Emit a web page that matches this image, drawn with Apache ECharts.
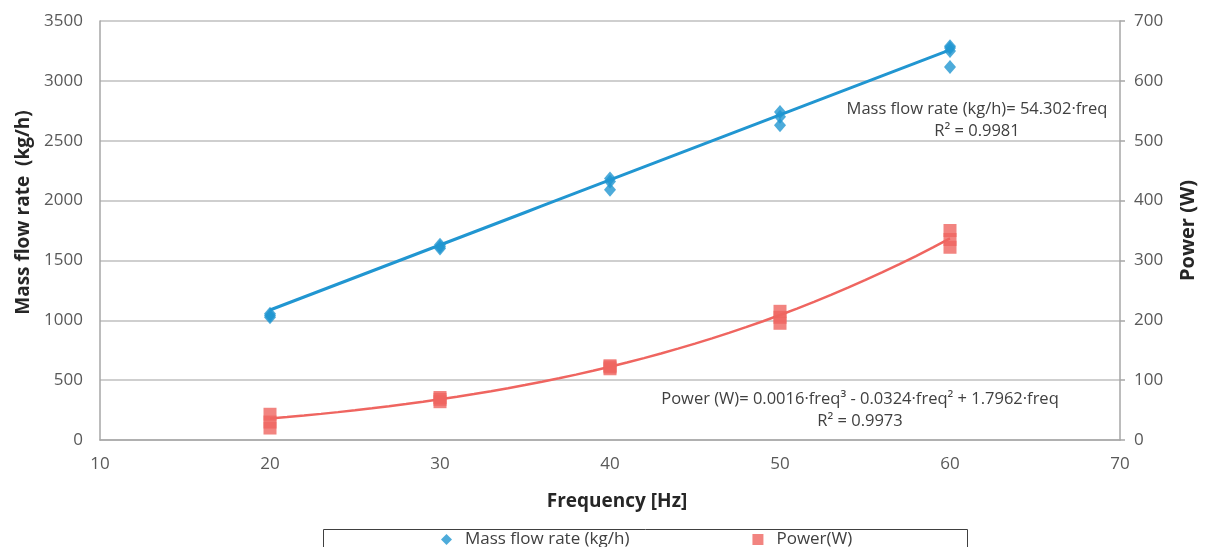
<!DOCTYPE html>
<html>
<head>
<meta charset="utf-8">
<script src="https://cdn.jsdelivr.net/npm/echarts@6/dist/echarts.min.js"></script>
<style>
  html, body { margin: 0; padding: 0; background: #ffffff; }
  #chart { width: 1206px; height: 547px; }
</style>
</head>
<body>
<div id="chart"></div>
<script>
// Measured points: pump frequency (Hz) against mass flow rate and electrical power
const massFreq = [20, 20, 20, 30, 30, 30, 40, 40, 40, 50, 50, 50, 60, 60, 60, 60];
const massFlow = [1025, 1040, 1055, 1600, 1615, 1630, 2090, 2160, 2185, 2630, 2700, 2740, 3115, 3250, 3275, 3290];
const powerFreq = [20, 20, 20, 30, 30, 30, 40, 40, 40, 50, 50, 50, 60, 60, 60];
const powerW = [20, 30, 43, 64, 68, 71, 119, 122, 124, 195, 205, 215, 322, 335, 350];

// Fitted trend coefficients, as printed beside each trend line
const massCoef = [54.302];                       // freq
const powerCoef = [0.0016, -0.0324, 1.7962];     // freq^3, freq^2, freq
const trendFreq = [];
for (let f = 20; f <= 60; f++) trendFreq.push(f);

const xTicks = [10, 20, 30, 40, 50, 60, 70];
const massTicks = [0, 500, 1000, 1500, 2000, 2500, 3000, 3500];
const powerTicks = [0, 100, 200, 300, 400, 500, 600, 700];

const BLUE = '#2196d1';
const RED = '#ef6560';
const FONT = 'Open Sans';
const plain = v => String(v);

const pair = (xs, ys) => xs.map((x, i) => [x, ys[i]]);
const massTrend = trendFreq.map(f => [f, massCoef[0] * f]);
const powerTrend = trendFreq.map(f => [f, powerCoef[0] * f * f * f + powerCoef[1] * f * f + powerCoef[2] * f]);

const chart = echarts.init(document.getElementById('chart'));
chart.setOption({
  animation: false,
  backgroundColor: '#ffffff',
  textStyle: { fontFamily: FONT },
  grid: { left: 100, right: 85, top: 21, bottom: 107, containLabel: false },
  legend: {
    data: [
      { name: 'Mass flow rate (kg/h)', icon: 'diamond' },
      { name: 'Power(W)', icon: 'rect' }
    ],
    left: 436, top: 526,
    itemWidth: 11, itemHeight: 11, itemGap: 123,
    textStyle: { fontFamily: FONT, fontSize: 17, color: '#404040', padding: [0, 0, 0, 8] }
  },
  xAxis: {
    type: 'value', min: xTicks[0], max: xTicks[xTicks.length - 1], interval: 10,
    name: 'Frequency [Hz]', nameLocation: 'middle', nameGap: 52,
    nameTextStyle: { fontFamily: FONT, fontSize: 19, fontWeight: 'bold', color: '#262626', padding: [0, 0, 0, 14] },
    axisLine: { show: true, lineStyle: { color: '#a6a6a6', width: 1.5 } },
    axisTick: { show: false },
    splitLine: { show: false },
    axisLabel: { margin: 16, fontSize: 17, color: '#595959', fontFamily: FONT, formatter: plain }
  },
  yAxis: [
    {
      type: 'value', min: massTicks[0], max: massTicks[massTicks.length - 1], interval: 500,
      name: 'Mass flow rate  (kg/h)', nameLocation: 'middle', nameGap: 66, nameRotate: 90,
      nameTextStyle: { fontFamily: FONT, fontSize: 19, fontWeight: 'bold', color: '#262626', padding: [0, 0, 0, 36] },
      axisLine: { show: true, lineStyle: { color: '#a6a6a6', width: 1.5 } },
      axisTick: { show: false },
      splitLine: { show: true, lineStyle: { color: '#bfbfbf', width: 1.5 } },
      axisLabel: { margin: 17, fontSize: 17, color: '#595959', fontFamily: FONT, formatter: plain }
    },
    {
      type: 'value', position: 'right', min: powerTicks[0], max: powerTicks[powerTicks.length - 1], interval: 100,
      name: 'Power (W)', nameLocation: 'middle', nameGap: 58, nameRotate: 90,
      nameTextStyle: { fontFamily: FONT, fontSize: 20, fontWeight: 'bold', color: '#262626' },
      axisLine: { show: true, lineStyle: { color: '#a6a6a6', width: 1.5 } },
      axisTick: { show: true, inside: false, length: 5, lineStyle: { color: '#a6a6a6', width: 1.5 } },
      splitLine: { show: false },
      axisLabel: { margin: 14, fontSize: 17, color: '#595959', fontFamily: FONT, formatter: plain }
    }
  ],
  series: [
    {
      name: 'Mass flow trend', type: 'line', yAxisIndex: 0, data: massTrend,
      showSymbol: false, silent: true, z: 2,
      lineStyle: { color: BLUE, width: 3 }
    },
    {
      name: 'Power trend', type: 'line', yAxisIndex: 1, data: powerTrend,
      showSymbol: false, silent: true, z: 2,
      lineStyle: { color: RED, width: 2.5 }
    },
    {
      name: 'Mass flow rate (kg/h)', type: 'scatter', yAxisIndex: 0, data: pair(massFreq, massFlow),
      symbol: 'diamond', symbolSize: [12, 14], z: 3,
      itemStyle: { color: BLUE }
    },
    {
      name: 'Power(W)', type: 'scatter', yAxisIndex: 1, data: pair(powerFreq, powerW),
      symbol: 'rect', symbolSize: [13, 13], z: 3,
      itemStyle: { color: RED }
    }
  ],
  graphic: [
    {
      type: 'rect', left: 321, top: 527, silent: true, z: 0,
      shape: { width: 644, height: 40 },
      style: { fill: 'none', stroke: '#404040', lineWidth: 1 }
    },
    {
      type: 'text', x: 977, y: 98, silent: true,
      style: {
        text: 'Mass flow rate (kg/h)= 54.302·freq\nR² = 0.9981',
        fontFamily: FONT, fontSize: 16.5, lineHeight: 22, fill: '#404040', align: 'center'
      }
    },
    {
      type: 'text', x: 860, y: 388, silent: true,
      style: {
        text: 'Power (W)= 0.0016·freq³ - 0.0324·freq² + 1.7962·freq\nR² = 0.9973',
        fontFamily: FONT, fontSize: 16.5, lineHeight: 22, fill: '#404040', align: 'center'
      }
    }
  ]
});
</script>
</body>
</html>
